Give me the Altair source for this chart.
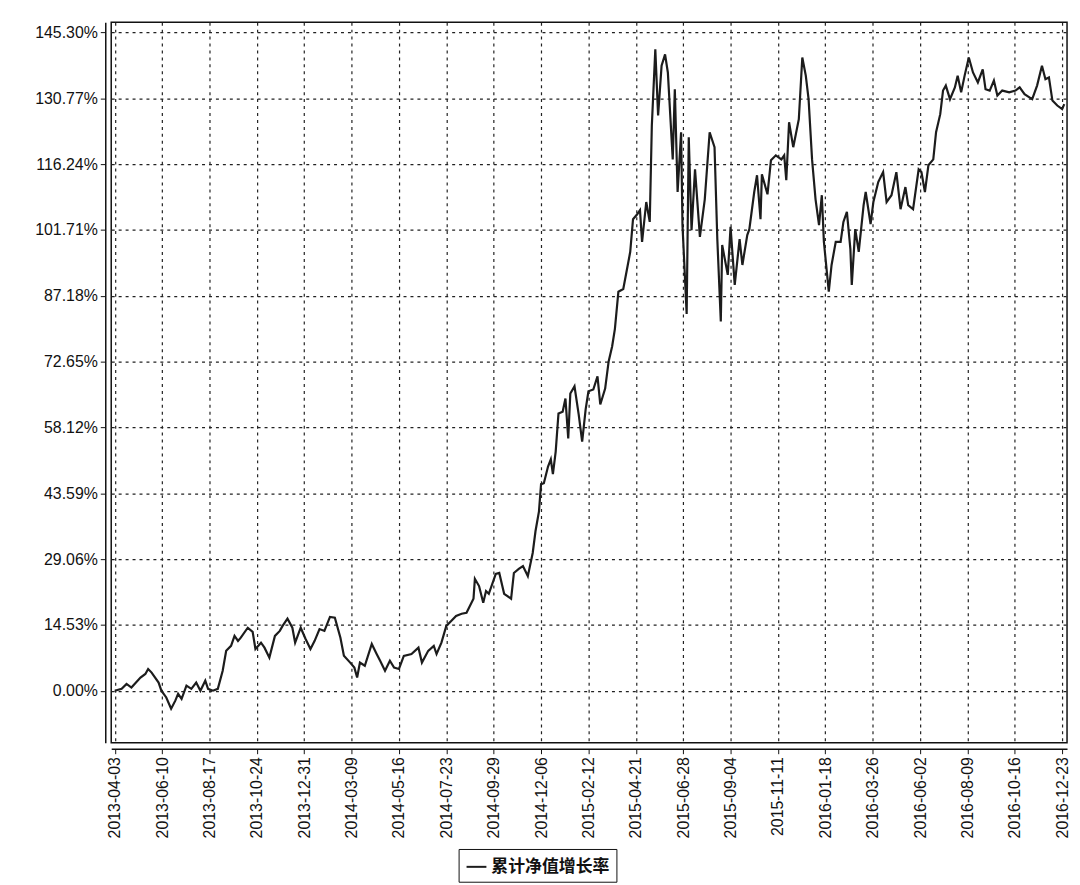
import altair as alt
import pandas as pd

dates = [
    "2013-04-03","2013-04-13","2013-04-20","2013-04-27","2013-05-10","2013-05-17","2013-05-21","2013-05-26",
    "2013-06-05","2013-06-09","2013-06-16","2013-06-23","2013-06-29","2013-07-03","2013-07-08","2013-07-15",
    "2013-07-22","2013-07-29","2013-08-04","2013-08-11","2013-08-15","2013-08-22","2013-08-29","2013-09-05",
    "2013-09-10","2013-09-17","2013-09-22","2013-09-27","2013-10-01","2013-10-11","2013-10-18","2013-10-22",
    "2013-10-30","2013-11-04","2013-11-11","2013-11-19","2013-11-26","2013-11-30","2013-12-07","2013-12-14",
    "2013-12-18","2013-12-26","2014-01-02","2014-01-09","2014-01-15","2014-01-22","2014-01-29","2014-02-06",
    "2014-02-13","2014-02-21","2014-02-26","2014-03-07","2014-03-13","2014-03-17","2014-03-21","2014-03-28",
    "2014-04-07","2014-04-14","2014-04-19","2014-04-26","2014-05-03","2014-05-09","2014-05-16","2014-05-23",
    "2014-06-03","2014-06-13","2014-06-18","2014-06-27","2014-07-05","2014-07-09","2014-07-16","2014-07-23",
    "2014-07-30","2014-08-06","2014-08-14","2014-08-21","2014-08-31","2014-09-02","2014-09-08","2014-09-14",
    "2014-09-18","2014-09-22","2014-10-02","2014-10-07","2014-10-14","2014-10-24","2014-10-28","2014-11-04",
    "2014-11-10","2014-11-17","2014-11-24","2014-11-28","2014-12-03","2014-12-06","2014-12-10","2014-12-16",
    "2014-12-20","2014-12-23","2014-12-27","2014-12-31","2015-01-06","2015-01-10","2015-01-14","2015-01-17",
    "2015-01-23","2015-01-29","2015-02-03","2015-02-08","2015-02-12","2015-02-19","2015-02-25","2015-03-01",
    "2015-03-08","2015-03-13","2015-03-18","2015-03-22","2015-03-27","2015-04-03","2015-04-09","2015-04-13",
    "2015-04-17","2015-04-23","2015-04-27","2015-04-30","2015-05-06","2015-05-11","2015-05-14","2015-05-19",
    "2015-05-23","2015-05-28","2015-06-02","2015-06-06","2015-06-13","2015-06-16","2015-06-20","2015-06-25",
    "2015-06-27","2015-07-03","2015-07-06","2015-07-10","2015-07-15","2015-07-22","2015-07-29","2015-08-05",
    "2015-08-12","2015-08-16","2015-08-21","2015-08-23","2015-08-31","2015-09-04","2015-09-10","2015-09-17",
    "2015-09-21","2015-09-28","2015-10-01","2015-10-08","2015-10-12","2015-10-17","2015-10-19","2015-10-27",
    "2015-11-01","2015-11-08","2015-11-16","2015-11-20","2015-11-23","2015-11-27","2015-12-03","2015-12-11",
    "2015-12-16","2015-12-21","2015-12-25","2015-12-30","2016-01-04","2016-01-09","2016-01-13","2016-01-16",
    "2016-01-23","2016-01-27","2016-02-02","2016-02-09","2016-02-13","2016-02-18","2016-02-23","2016-02-25",
    "2016-03-01","2016-03-06","2016-03-13","2016-03-16","2016-03-23","2016-03-27","2016-04-03","2016-04-10",
    "2016-04-15","2016-04-22","2016-04-29","2016-05-05","2016-05-12","2016-05-16","2016-05-23","2016-05-31",
    "2016-06-04","2016-06-09","2016-06-14","2016-06-21","2016-06-25","2016-07-01","2016-07-05","2016-07-09",
    "2016-07-15","2016-07-22","2016-07-26","2016-07-31","2016-08-05","2016-08-11","2016-08-17","2016-08-24",
    "2016-08-31","2016-09-04","2016-09-10","2016-09-16","2016-09-21","2016-09-28","2016-10-08","2016-10-17",
    "2016-10-23","2016-10-30","2016-11-06","2016-11-10","2016-11-17","2016-11-24","2016-11-29","2016-12-04",
    "2016-12-09","2016-12-16","2016-12-23","2016-12-26",
]

growth = [
    0.0, 0.4, 1.5, 0.7, 2.9, 3.7, 4.8, 4.0,
    1.8, 0.0, -1.5, -4.0, -2.2, -0.7, -1.8, 1.1,
    0.4, 1.8, 0.0, 2.2, 0.4, 0.0, 0.4, 4.4,
    8.8, 9.9, 12.1, 11.0, 11.7, 13.9, 13.0, 9.2,
    10.6, 9.5, 7.3, 12.1, 13.2, 14.3, 15.9, 13.9,
    10.6, 13.9, 11.4, 9.2, 11.0, 13.6, 13.2, 16.3,
    16.1, 11.7, 7.7, 6.2, 5.1, 2.9, 6.2, 5.5,
    10.3, 8.1, 6.6, 4.4, 6.6, 5.1, 4.8, 7.7,
    8.1, 9.5, 6.2, 8.8, 9.9, 8.1, 10.6, 14.3,
    15.4, 16.5, 17.0, 17.2, 20.3, 24.7, 23.1, 19.4,
    22.0, 21.4, 25.8, 26.0, 21.4, 20.3, 26.0, 26.9,
    27.5, 25.3, 30.4, 35.2, 39.6, 45.6, 45.8, 49.5,
    51.1, 47.8, 52.8, 61.2, 61.6, 64.5, 55.7, 65.6,
    67.2, 61.0, 55.0, 62.1, 66.1, 66.5, 69.4, 63.2,
    66.7, 72.7, 76.0, 79.9, 88.1, 88.7, 93.6, 96.9,
    104.1, 105.2, 106.1, 99.1, 107.9, 103.5, 124.8, 141.6,
    127.0, 138.0, 140.5, 136.5, 117.3, 132.8, 110.1, 123.3,
    102.8, 83.2, 122.2, 101.7, 115.1, 100.2, 108.5, 123.3,
    120.0, 99.7, 81.5, 98.4, 91.8, 102.4, 89.6, 99.7,
    94.0, 100.6, 101.9, 110.1, 113.8, 104.1, 114.0, 109.6,
    117.1, 118.2, 117.3, 118.2, 112.7, 125.5, 120.0, 126.2,
    139.8, 135.8, 130.6, 117.3, 108.5, 102.8, 109.4, 99.1,
    88.1, 94.0, 99.1, 99.1, 103.5, 105.7, 97.5, 89.6,
    101.9, 96.9, 107.2, 110.1, 103.0, 107.9, 112.3, 114.5,
    107.9, 109.4, 114.5, 106.3, 111.2, 107.2, 106.3, 115.1,
    114.5, 110.1, 116.0, 117.3, 123.3, 127.3, 132.5, 133.6,
    130.6, 133.2, 135.8, 132.1, 135.8, 139.8, 136.5, 134.3,
    137.2, 132.8, 132.5, 134.7, 131.4, 132.5, 132.1, 132.5,
    133.2, 131.7, 131.0, 130.6, 133.6, 138.0, 135.0, 135.4,
    130.3, 129.2, 128.4, 129.5,
]

x_tick_labels = [
    "2013-04-03","2013-06-10","2013-08-17","2013-10-24","2013-12-31","2014-03-09","2014-05-16",
    "2014-07-23","2014-09-29","2014-12-06","2015-02-12","2015-04-21","2015-06-28","2015-09-04",
    "2015-11-11","2016-01-18","2016-03-26","2016-06-02","2016-08-09","2016-10-16","2016-12-23",
]
y_tick_values = [0.00, 14.53, 29.06, 43.59, 58.12, 72.65, 87.18, 101.71, 116.24, 130.77, 145.30]
x_domain = ["2013-03-29", "2016-12-30"]
y_domain = [-11.5, 147.6]
series_name = "累计净值增长率"

def ms(s):
    return int(pd.Timestamp(s, tz="UTC").value // 10**6)

df = pd.DataFrame({"date": dates, "growth": growth, "series": series_name})

line = alt.Chart(df).mark_line(strokeWidth=2.2, interpolate="linear").encode(
    x=alt.X(
        "date:T",
        scale=alt.Scale(type="utc", domain=[ms(d) for d in x_domain], nice=False),
        axis=alt.Axis(
            values=[ms(d) for d in x_tick_labels],
            labelExpr="utcFormat(datum.value, '%Y-%m-%d')",
            labelAngle=270,
            labelFontSize=16,
            labelFont="Liberation Sans",
            labelColor="#111",
            labelOverlap=False,
            labelBound=False,
            labelFlush=False,
            labelPadding=3,
            tickSize=5,
            tickColor="#111",
            domainColor="#111",
            domainWidth=1.5,
            offset=6,
            grid=True,
            gridColor="#222",
            gridDash=[3, 4],
            gridWidth=1.2,
            title=None,
        ),
    ),
    y=alt.Y(
        "growth:Q",
        scale=alt.Scale(domain=y_domain, nice=False, zero=False),
        axis=alt.Axis(
            values=y_tick_values,
            labelExpr="format(datum.value, '.2f') + '%'",
            labelFontSize=16,
            labelFont="Liberation Sans",
            labelColor="#111",
            labelPadding=3,
            tickSize=5,
            tickColor="#111",
            domainColor="#111",
            domainWidth=1.5,
            offset=6,
            grid=True,
            gridColor="#222",
            gridDash=[3, 4],
            gridWidth=1.2,
            title=None,
        ),
    ),
    color=alt.Color(
        "series:N",
        scale=alt.Scale(range=["#1c1c1c"]),
        legend=alt.Legend(
            title=None,
            orient="none",
            legendX=350,
            legendY=833,
            symbolType="stroke",
            symbolStrokeWidth=2,
            symbolSize=400,
            labelFont="Noto Sans CJK SC",
            labelFontSize=17,
            labelFontWeight="bold",
            labelColor="#111",
            strokeColor="#111",
            padding=7,
            fillColor="white",
        ),
    ),
)

chart = line.properties(
    width=963,
    height=726,
    autosize=alt.AutoSizeParams(type="none"),
    padding={"left": 104, "top": 11, "right": 5, "bottom": 140},
    background="white",
).configure_view(stroke="#111", strokeWidth=1.5)

chart.save("out.html", embed_options={"renderer": "svg", "actions": False})
